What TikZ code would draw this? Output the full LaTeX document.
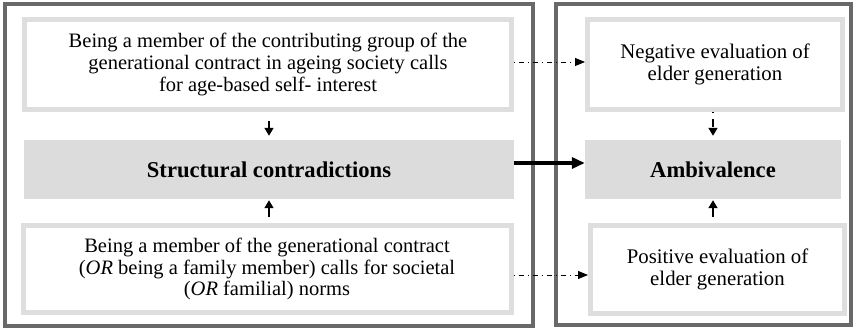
\documentclass[tikz,border=0pt]{standalone}
\usepackage{fontspec}
\setmainfont{Liberation Serif}
\usetikzlibrary{arrows.meta}
\begin{document}
\begin{tikzpicture}[
        x=1pt, y=1pt,
        frame/.style={draw=framegray, line width=4pt, inner sep=0pt},
        textbox/.style={draw=boxborder, line width=5pt, fill=white, align=center, inner sep=0pt,
            font=\fontsize{20.5}{21.7}\selectfont},
        evalbox/.style={textbox, font=\fontsize{20.8}{21.7}\selectfont},
        keybox/.style={fill=boxfill, align=center, inner sep=0pt,
            font=\fontsize{22.6}{24}\selectfont\bfseries},
        small arrow/.style={-{Triangle[length=8pt, width=9pt]}, line width=1.5pt},
        thick arrow/.style={-{Triangle[length=13pt, width=11pt]}, line width=4pt},
        cross arrow/.style={-{Triangle[length=10pt, width=8pt]}, line width=0.9pt,
            dash pattern=on 1pt off 4pt on 5pt off 4pt}
    ]

        \definecolor{framegray}{RGB}{105, 105, 105}
        \definecolor{boxborder}{RGB}{222, 222, 222}
        \definecolor{boxfill}{RGB}{220, 220, 220}

        \useasboundingbox (0, 0) rectangle (853, 331);

        % outer frames
        \node[frame, minimum width=528.5, minimum height=322] (leftframe) at (268.75, 165.5) {};
        \node[frame, minimum width=295.5, minimum height=321] (rightframe) at (703.25, 166) {};

        % left column
        \node[textbox, minimum width=487, minimum height=90] (contrib) at (268, 266.5) {
            Being a member of the contributing group of the \\
            generational contract in ageing society calls \\
            for age-based self- interest
        };
        \node[keybox, minimum width=490, minimum height=59] (struct) at (269, 161.5) {Structural contradictions};
        \node[textbox, minimum width=488, minimum height=87] (member) at (267, 62) {
            Being a member of the generational contract \\
            (\textit{OR} being a family member) calls for societal \\
            (\textit{OR} familial) norms
        };

        % right column
        \node[evalbox, minimum width=255, minimum height=90] (negative) at (715, 266.5) {
            Negative evaluation of \\
            elder generation
        };
        \node[keybox, minimum width=256, minimum height=59] (ambi) at (713, 161.5) {Ambivalence};
        \node[evalbox, minimum width=254, minimum height=88] (positive) at (717.5, 61.5) {
            Positive evaluation of \\
            elder generation
        };

        % connectors
        \draw[small arrow, shorten <=9pt, shorten >=4pt] (contrib.south -| struct.north) -- (struct.north);
        \draw[small arrow, shorten <=6pt, shorten >=1pt] (member.north -| struct.south) -- (struct.south);
        \draw[small arrow, dash pattern=on 1.5pt off 6pt on 6pt off 0pt, shorten >=4pt] (negative.south -| ambi.north) -- (ambi.north);
        \draw[small arrow, shorten <=6pt, shorten >=1pt] (positive.north -| ambi.south) -- (ambi.south);
        \draw[thick arrow] (struct.east |- 0, 168) -- (ambi.west |- 0, 168);
        \draw[cross arrow] (contrib.east |- 0, 269) -- (negative.west |- 0, 269);
        \draw[cross arrow] (member.east |- 0, 56) -- (positive.west |- 0, 56);
    \end{tikzpicture}
\end{document}
